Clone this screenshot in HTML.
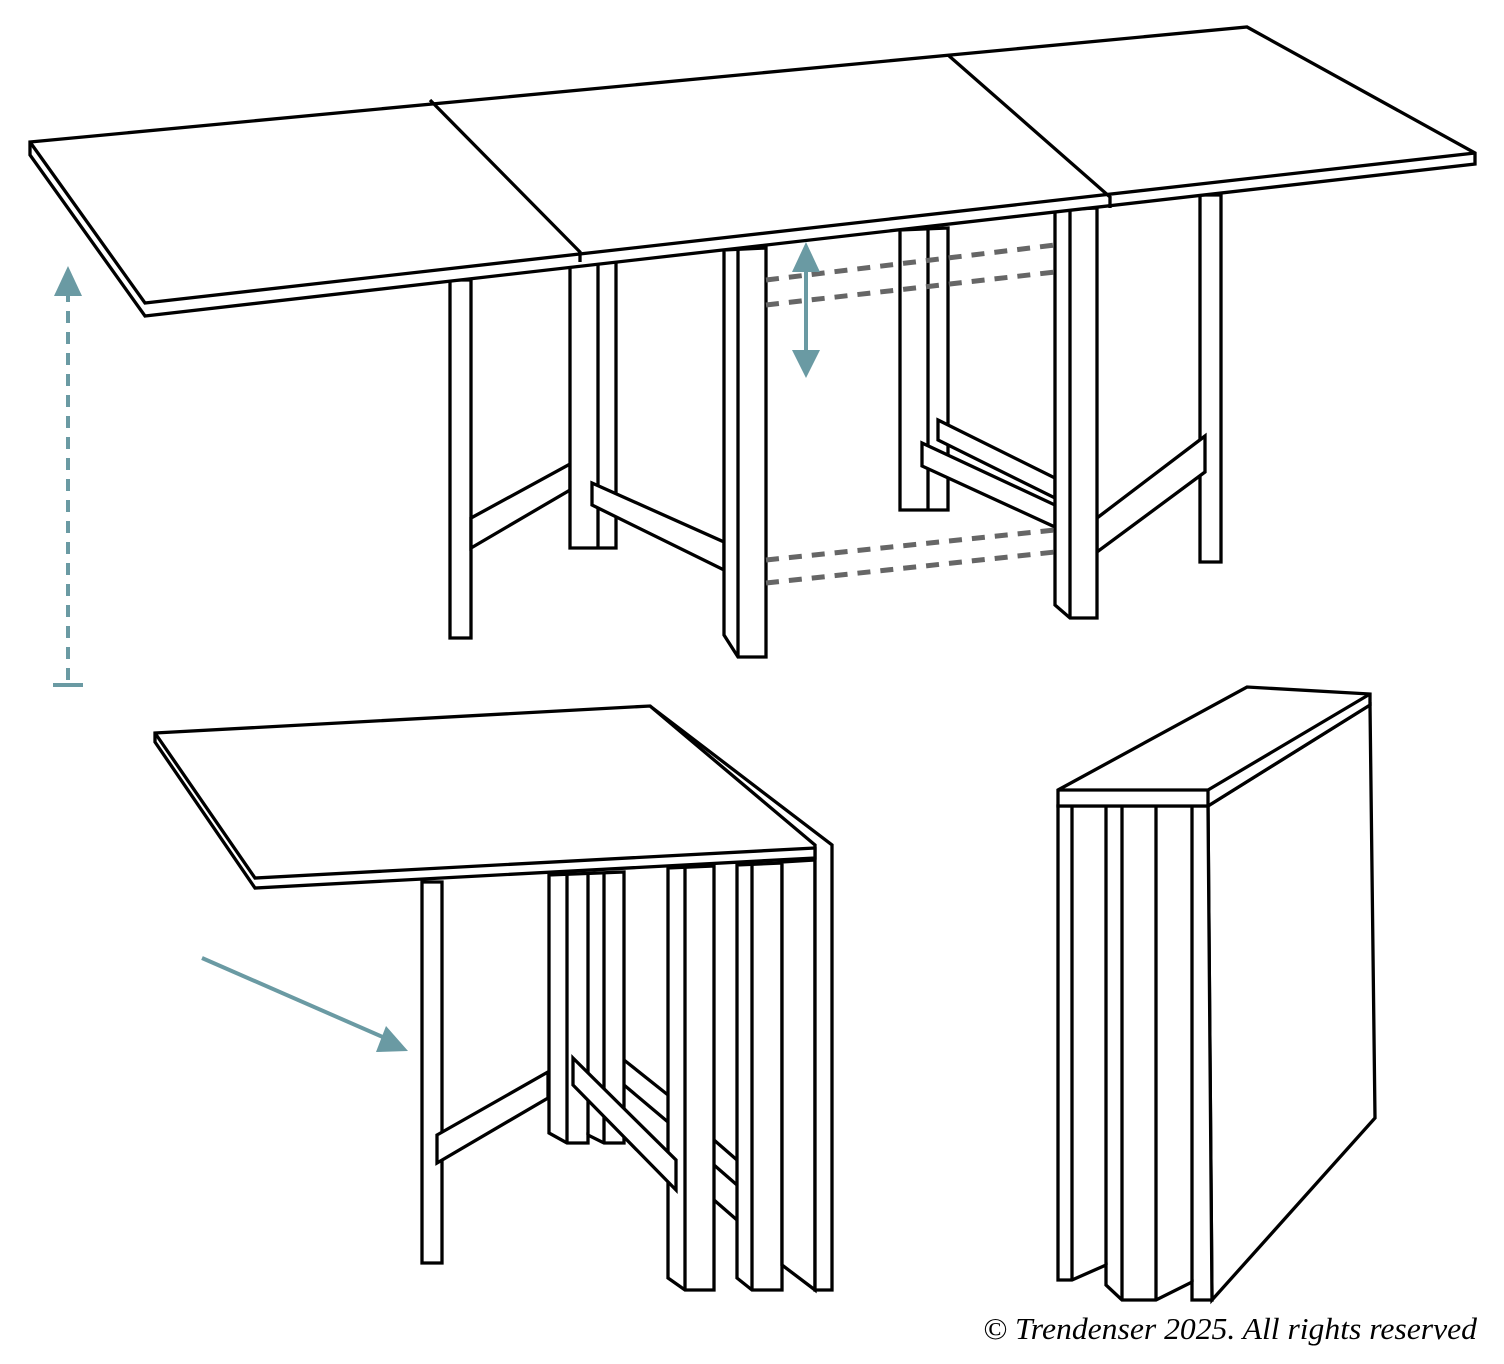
<!DOCTYPE html>
<html><head><meta charset="utf-8"><style>
html,body{margin:0;padding:0;background:#fff}
svg{display:block}
</style></head><body>
<svg width="1504" height="1364" viewBox="0 0 1504 1364" xmlns="http://www.w3.org/2000/svg">
<g fill="#fff" stroke="#000" stroke-width="3.3" stroke-linejoin="miter">
<polygon points="900,230 948,228 948,510 900,510"/>
<line x1="928" y1="230" x2="928" y2="510"/>
<polygon points="938,420 1055,478 1055,498 938,440"/>
<polygon points="922,443 1055,505 1055,527 922,466"/>
<polygon points="1200,195 1221,195 1221,562 1200,562"/>
<polygon points="1097,518 1205,436 1205,472 1097,552"/>
<polygon points="1055,210 1097,208 1097,618 1070,618 1055,605"/>
<line x1="1070" y1="210" x2="1070" y2="618"/>
<polygon points="450,280 471,280 471,638 450,638"/>
<polygon points="471,518 570,464 570,490 471,548"/>
<polygon points="570,265 616,262 616,548 570,548"/>
<line x1="598" y1="265" x2="598" y2="548"/>
<polygon points="592,483 724,542 724,570 592,505"/>
<polygon points="724,250 766,248 766,657 738,657 724,635"/>
<line x1="738" y1="250" x2="738" y2="657"/>
<polygon points="30,142 1247,27 1475,153 1475,164 145,316 30,155"/>
<polyline fill="none" points="30,142 145,303 1475,153"/>
<polyline fill="none" points="430,100 580,252 580,262"/>
<polyline fill="none" points="948,55 1110,197 1110,208"/>
</g>
<g stroke="#666" stroke-width="5" stroke-dasharray="13,10" fill="none">
<line x1="766" y1="280" x2="1055" y2="245"/>
<line x1="766" y1="305" x2="1055" y2="272"/>
<line x1="766" y1="560" x2="1055" y2="530"/>
<line x1="766" y1="583" x2="1055" y2="552"/>
</g>
<g fill="#6a9aa3" stroke="#6a9aa3">
<line x1="806" y1="265" x2="806" y2="355" stroke-width="4"/>
<polygon points="792,272 806,242 820,272" stroke="none"/>
<polygon points="792,350 806,378 820,350" stroke="none"/>
<line x1="68" y1="290" x2="68" y2="685" stroke-width="4" stroke-dasharray="12,9"/>
<polygon points="54,296 68,266 82,296" stroke="none"/>
<line x1="53" y1="685" x2="83" y2="685" stroke-width="4"/>
<line x1="202" y1="958" x2="385" y2="1038" stroke-width="4"/>
<polygon points="376,1052 408,1051 386,1026" stroke="none"/>
</g>
<g fill="#fff" stroke="#000" stroke-width="3.3">
<polygon points="549,875 624,872 624,1143 604,1143 588,1135 588,1143 567,1143 549,1133"/>
<line x1="567" y1="875" x2="567" y2="1143"/>
<line x1="588" y1="873" x2="588" y2="1135"/>
<line x1="604" y1="872" x2="604" y2="1143"/>
<polyline fill="none" points="624,1060 668,1095"/>
<polyline fill="none" points="624,1085 668,1122"/>
<polyline fill="none" points="714,1140 737,1160"/>
<polyline fill="none" points="714,1165 737,1185"/>
<polyline fill="none" points="714,1200 737,1220"/>
<polygon points="422,882 442,882 442,1263 422,1263"/>
<polygon points="437,1135 548,1072 548,1098 437,1163"/>
<polygon points="668,868 714,866 714,1290 685,1290 668,1278"/>
<line x1="685" y1="868" x2="685" y2="1290"/>
<polygon points="737,865 782,863 782,1290 752,1290 737,1278"/>
<line x1="752" y1="865" x2="752" y2="1290"/>
<polygon points="782,862 815,860 815,1290 782,1265"/>
<polygon points="573,1058 676,1160 676,1190 573,1085"/>
<polygon points="650,706 832,845 832,1290 815,1290 815,848"/>
<polygon points="155,733 650,706 815,845 815,858 255,888 155,742"/>
<polyline fill="none" points="155,733 255,878 815,848"/>
<polygon points="1208,806 1370,705 1375,1118 1212,1300"/>
<polygon points="1058,806 1208,806 1212,1300 1192,1300 1192,1282 1156,1300 1122,1300 1106,1285 1106,1265 1072,1280 1058,1280"/>
<line x1="1072" y1="806" x2="1072" y2="1280"/>
<line x1="1106" y1="806" x2="1106" y2="1265"/>
<line x1="1122" y1="806" x2="1122" y2="1300"/>
<line x1="1156" y1="806" x2="1156" y2="1300"/>
<line x1="1192" y1="806" x2="1192" y2="1282"/>
<polygon points="1058,790 1247,687 1370,694 1370,705 1208,806 1058,806"/>
<polyline fill="none" points="1058,790 1208,790 1370,694"/>
<line x1="1208" y1="790" x2="1208" y2="806"/>
</g>
<text x="1477" y="1339" text-anchor="end" font-family="Liberation Serif, serif" font-style="italic" font-size="31" fill="#000" textLength="494" lengthAdjust="spacingAndGlyphs">© Trendenser 2025. All rights reserved</text>
</svg>
</body></html>
